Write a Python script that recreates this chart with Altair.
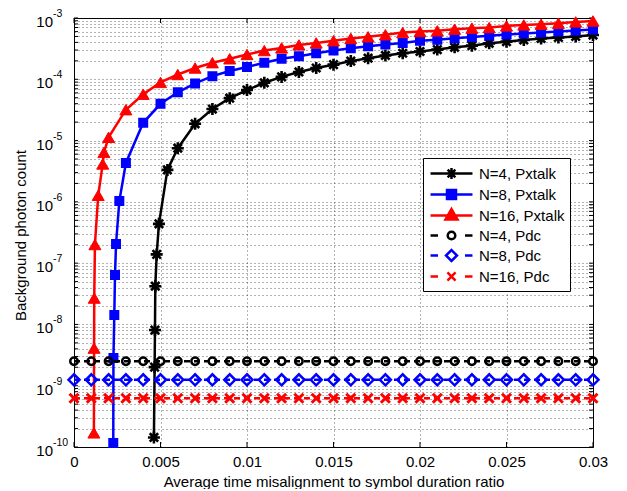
import altair as alt
import pandas as pd

FONT = "Liberation Sans"

series_names = ["N=4, Pxtalk", "N=8, Pxtalk", "N=16, Pxtalk", "N=4, Pdc", "N=8, Pdc", "N=16, Pdc"]
series_colors = ["#000000", "#0000ff", "#ff0000", "#000000", "#0000ff", "#ff0000"]

# N=4, Pxtalk
x_n4_pxtalk = [0.00462, 0.00466, 0.00468, 0.0047, 0.00478, 0.00491, 0.0054, 0.006,
               0.007, 0.008, 0.009, 0.010, 0.011, 0.012, 0.013, 0.014, 0.015, 0.016,
               0.017, 0.018, 0.019, 0.020, 0.021, 0.022, 0.023, 0.024, 0.025, 0.026,
               0.027, 0.028, 0.029, 0.030]
y_n4_pxtalk = [1.43e-10, 2.01e-9, 8.1e-9, 4.2e-8, 1.39e-7, 4.38e-7, 3.32e-6, 7.5e-6,
               1.88e-5, 3.27e-5, 4.92e-5, 6.68e-5, 8.77e-5, 1.094e-4, 1.318e-4, 1.528e-4,
               1.733e-4, 1.98e-4, 2.21e-4, 2.45e-4, 2.66e-4, 2.84e-4, 3.05e-4, 3.33e-4,
               3.54e-4, 3.86e-4, 4.11e-4, 4.38e-4, 4.64e-4, 4.82e-4, 5.0e-4, 5.27e-4]

# N=8, Pxtalk
x_n8_pxtalk = [0.00227, 0.00228, 0.00233, 0.00237, 0.00243, 0.00262, 0.003,
               0.004, 0.005, 0.006, 0.007, 0.008, 0.009, 0.010, 0.011, 0.012, 0.013,
               0.014, 0.015, 0.016, 0.017, 0.018, 0.019, 0.020, 0.021, 0.022, 0.023,
               0.024, 0.025, 0.026, 0.027, 0.028, 0.029, 0.030]
y_n8_pxtalk = [1.16e-10, 2.84e-9, 1.42e-8, 6.38e-8, 2.06e-7, 1.03e-6, 4.31e-6,
               1.95e-5, 3.98e-5, 6.14e-5, 8.57e-5, 1.124e-4, 1.368e-4, 1.585e-4, 1.866e-4,
               2.16e-4, 2.38e-4, 2.66e-4, 2.94e-4, 3.21e-4, 3.45e-4, 3.68e-4, 3.92e-4,
               4.26e-4, 4.43e-4, 4.68e-4, 4.89e-4, 5.13e-4, 5.37e-4, 5.59e-4, 5.82e-4,
               6.04e-4, 6.27e-4, 6.48e-4]

# N=16, Pxtalk
x_n16_pxtalk = [0.00115, 0.00116, 0.00117, 0.00121, 0.0014, 0.00166, 0.00173,
                0.002, 0.003, 0.004, 0.005, 0.006, 0.007, 0.008, 0.009, 0.010, 0.011,
                0.012, 0.013, 0.014, 0.015, 0.016, 0.017, 0.018, 0.019, 0.020, 0.021,
                0.022, 0.023, 0.024, 0.025, 0.026, 0.027, 0.028, 0.029, 0.030]
y_n16_pxtalk = [1.70e-10, 4.11e-9, 2.69e-8, 2.01e-7, 1.28e-6, 4.15e-6, 6.41e-6,
                1.13e-5, 3.19e-5, 5.70e-5, 8.89e-5, 1.197e-4, 1.528e-4, 1.866e-4, 2.16e-4,
                2.54e-4, 2.94e-4, 3.25e-4, 3.64e-4, 3.92e-4, 4.26e-4, 4.64e-4, 4.94e-4,
                5.33e-4, 5.80e-4, 6.00e-4, 6.18e-4, 6.58e-4, 6.83e-4, 6.98e-4, 7.43e-4,
                7.71e-4, 7.92e-4, 8.22e-4, 8.63e-4, 8.95e-4]

# Pdc (dark count) levels, sampled on the same grid
x_pdc = [0.000, 0.001, 0.002, 0.003, 0.004, 0.005, 0.006, 0.007, 0.008, 0.009, 0.010,
         0.011, 0.012, 0.013, 0.014, 0.015, 0.016, 0.017, 0.018, 0.019, 0.020,
         0.021, 0.022, 0.023, 0.024, 0.025, 0.026, 0.027, 0.028, 0.029, 0.030]
pdc_levels = [2.5e-9, 1.25e-9, 6.25e-10]

x_ticks = [0, 0.005, 0.01, 0.015, 0.02, 0.025, 0.03]
x_tick_labels = ["0", "0.005", "0.01", "0.015", "0.02", "0.025", "0.03"]
y_decades = [1e-10, 1e-9, 1e-8, 1e-7, 1e-6, 1e-5, 1e-4, 1e-3]
y_tick_base = ["10", "10", "10", "10", "10", "10", "10", "10"]
y_tick_exponents = ["-10", "-9", "-8", "-7", "-6", "-5", "-4", "-3"]

# ---------------------------------------------------------------- data tables
rows = []
for name, xs, ys in [(series_names[0], x_n4_pxtalk, y_n4_pxtalk),
                     (series_names[1], x_n8_pxtalk, y_n8_pxtalk),
                     (series_names[2], x_n16_pxtalk, y_n16_pxtalk)]:
    for xv, yv in zip(xs, ys):
        rows.append({"series": name, "x": xv, "y": yv})
for name, lvl in zip(series_names[3:], pdc_levels):
    for xv in x_pdc:
        rows.append({"series": name, "x": xv, "y": lvl})
df = pd.DataFrame(rows)

df_ylab = pd.DataFrame({"y": y_decades, "base": y_tick_base, "exp": y_tick_exponents})

# ---------------------------------------------------------------- axes
y_grid_values = [k * 10.0 ** e for e in range(-10, -3) for k in range(1, 10)] + [1e-3]
df_yticks = pd.DataFrame({"y": y_grid_values})
df_xticks = pd.DataFrame({"x": x_ticks})

x_label_expr = "[" + ",".join("'%s'" % s for s in x_tick_labels) + "][round(datum.value/0.005)]"

x_axis = alt.Axis(values=x_ticks, labelExpr=x_label_expr,
                  title="Average time misalignment to symbol duration ratio",
                  grid=True, domain=False, ticks=False, labelFlush=False, labelOverlap=False,
                  labelPadding=7, titleY=34, titleBaseline="middle")
y_axis = alt.Axis(values=y_grid_values, labels=False,
                  title="Background photon count",
                  grid=True, domain=False, ticks=False,
                  titleX=-54, titleY=217, titleBaseline="middle", titleAngle=270)

x_scale = alt.Scale(domain=[0, 0.03], nice=False, zero=False)
y_scale = alt.Scale(type="log", domain=[1e-10, 1e-3], nice=False)

X = alt.X("x:Q", scale=x_scale, axis=x_axis)
Y = alt.Y("y:Q", scale=y_scale, axis=y_axis)

W, H = 519, 429

# ---------------------------------------------------------------- inward tick marks (box style)
layers = []
for x0, x1 in [(0, 4), (W, W - 4)]:
    layers.append(alt.Chart(df_yticks).mark_rule(color="black", strokeWidth=1).encode(
        y=Y, x=alt.value(x0), x2=alt.value(x1)))
for y0, y1 in [(H, H - 5), (0, 5)]:
    layers.append(alt.Chart(df_xticks).mark_rule(color="black", strokeWidth=1).encode(
        x=X, y=alt.value(y0), y2=alt.value(y1)))

# ---------------------------------------------------------------- series
ASTERISK = "M-1,0L1,0M0,-1L0,1M-0.7,-0.7L0.7,0.7M-0.7,0.7L0.7,-0.7"
XCROSS = "M-1,-1L1,1M-1,1L1,-1"

styles = {
    "N=4, Pxtalk": dict(shape=ASTERISK, size=144, filled=False, sw=2.6, dash=None),
    "N=8, Pxtalk": dict(shape="square", size=72, filled=True, sw=1.5, dash=None),
    "N=16, Pxtalk": dict(shape="triangle-up", size=144, filled=True, sw=1, dash=None),
    "N=4, Pdc": dict(shape="circle", size=56, filled=False, sw=2.5, dash=[6, 4]),
    "N=8, Pdc": dict(shape="diamond", size=121, filled=False, sw=2.5, dash=[6, 4]),
    "N=16, Pdc": dict(shape=XCROSS, size=81, filled=False, sw=3, dash=[6, 4]),
}

for name, col in zip(series_names, series_colors):
    st = styles[name]
    base = alt.Chart(df).transform_filter(alt.datum.series == name)
    line_kw = dict(color=col, strokeWidth=2.5)
    if st["dash"]:
        line_kw["strokeDash"] = st["dash"]
    layers.append(base.mark_line(**line_kw).encode(x=X, y=Y))
    pt_kw = dict(shape=st["shape"], size=st["size"], filled=st["filled"], strokeWidth=st["sw"],
                 opacity=1)
    if st["filled"]:
        pt_kw.update(fill=col, stroke=col)
    else:
        pt_kw.update(stroke=col, fill="transparent")
    layers.append(base.mark_point(**pt_kw).encode(x=X, y=Y))

# y tick labels: "10" with a raised exponent, placed through the y scale
layers.append(alt.Chart(df_ylab).mark_text(
    align="right", baseline="middle", font=FONT, fontSize=15, color="black", dy=4).encode(
    x=alt.value(-21), y=Y, text="base:N"))
layers.append(alt.Chart(df_ylab).mark_text(
    align="left", baseline="middle", font=FONT, fontSize=10.5, color="black", dy=-4).encode(
    x=alt.value(-21), y=Y, text="exp:N"))

# ---------------------------------------------------------------- legend
legend_paths = [
    "M-2.33,0L2.33,0M-0.61,0L0.61,0M0,-0.61L0,0.61M-0.43,-0.43L0.43,0.43M-0.43,0.43L0.43,-0.43",
    "M-2.33,0L2.33,0M-0.5,-0.5L0.5,-0.5L0.5,0.5L-0.5,0.5Z",
    "M-2.33,0L2.33,0M0,-0.72L0.67,0.45L-0.67,0.45Z",
    "M-2.33,0L-1.5,0M1.5,0L2.33,0M0.42,0A0.42,0.42,0,1,1,-0.42,0A0.42,0.42,0,1,1,0.42,0Z",
    "M-2.33,0L-1.5,0M1.5,0L2.33,0M0,-0.61L0.61,0L0,0.61L-0.61,0Z",
    "M-2.33,0L-1.5,0M1.5,0L2.33,0M-0.45,-0.45L0.45,0.45M-0.45,0.45L0.45,-0.45",
]
legend_fills = ["transparent", "#0000ff", "#ff0000", "transparent", "transparent", "transparent"]

leg = alt.Legend(orient="none", legendX=349, legendY=140, title=None,
                 symbolSize=324, symbolStrokeWidth=2.5, symbolOffset=13, labelOffset=17,
                 labelFontSize=15, labelFont=FONT, labelColor="black", labelLimit=300,
                 strokeColor="black", fillColor="white", padding=5, rowPadding=0)

df_leg = pd.DataFrame({"label": series_names})
legend_layer = alt.Chart(df_leg).transform_filter("false").mark_point(
    filled=False, opacity=1).encode(
    shape=alt.Shape("label:N", scale=alt.Scale(domain=series_names, range=legend_paths), legend=leg),
    stroke=alt.Stroke("label:N", scale=alt.Scale(domain=series_names, range=series_colors), legend=leg),
    fill=alt.Fill("label:N", scale=alt.Scale(domain=series_names, range=legend_fills), legend=leg),
)
layers.append(legend_layer)

chart = alt.layer(*layers).properties(
    width=W, height=H,
    autosize=alt.AutoSizeParams(type="none"),
    padding={"left": 66, "top": 10, "right": 20, "bottom": 42},
).configure_axis(
    labelFont=FONT, labelFontSize=15, labelColor="black",
    titleFont=FONT, titleFontSize=15, titleFontWeight="normal", titleColor="black",
    gridColor="#000000", gridOpacity=0.6, gridDash=[1, 3], gridWidth=1,
).configure_view(stroke="black", strokeWidth=1)

chart.save("out.html", embed_options={"renderer": "svg", "actions": False})
